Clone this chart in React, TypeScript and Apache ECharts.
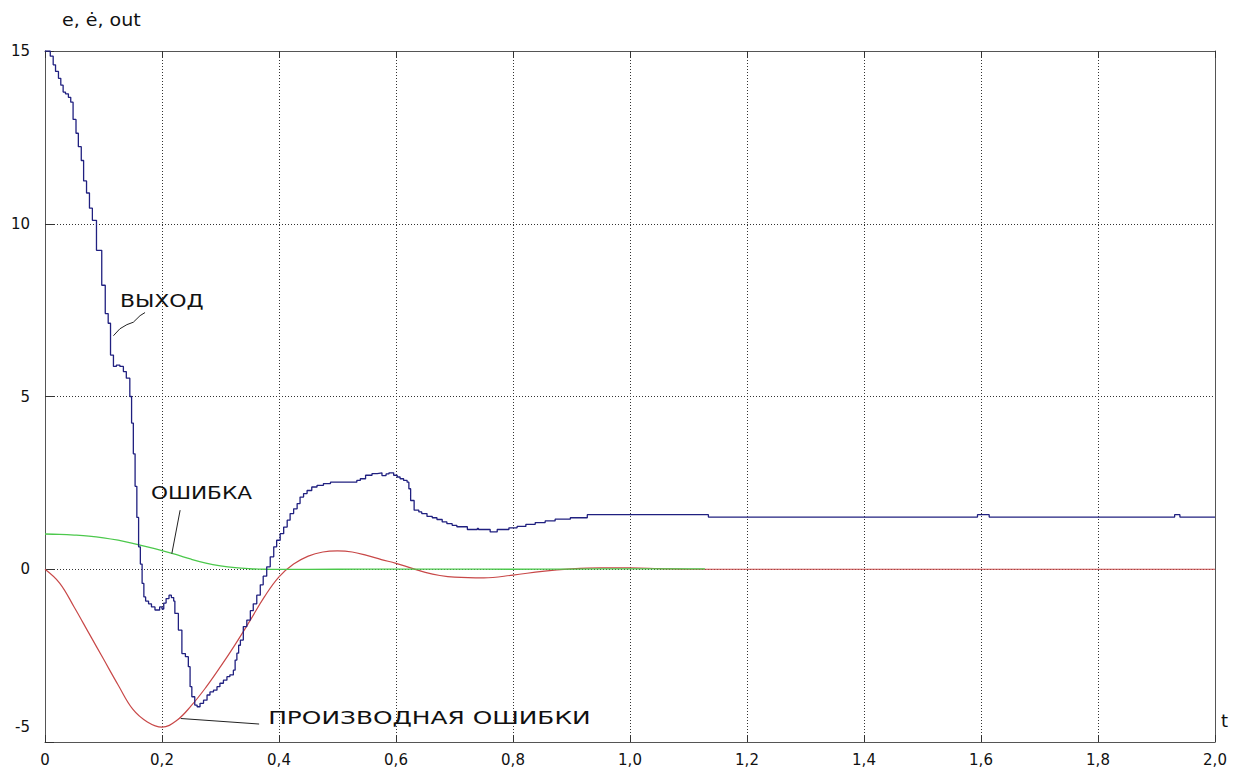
import React, { useEffect, useRef } from 'react';
import * as echarts from 'echarts';

// ВЫХОД (output) – staircase signal: value holds from blueT[i] until blueT[i+1]
const blueT = [
  0.000, 0.009, 0.014, 0.018, 0.023, 0.027, 0.031, 0.035, 0.040, 0.044,
  0.048, 0.053, 0.057, 0.062, 0.066, 0.071, 0.076, 0.081, 0.088, 0.097,
  0.103, 0.108, 0.112, 0.117, 0.122, 0.128, 0.134, 0.139, 0.145, 0.148,
  0.151, 0.154, 0.157, 0.160, 0.163, 0.166, 0.169, 0.172, 0.177, 0.182,
  0.188, 0.196, 0.200, 0.203, 0.207, 0.212, 0.216, 0.220, 0.222, 0.228,
  0.234, 0.240, 0.245, 0.248, 0.251, 0.256, 0.260, 0.265, 0.271, 0.277,
  0.282, 0.288, 0.294, 0.299, 0.305, 0.311, 0.316, 0.322, 0.325, 0.328,
  0.331, 0.334, 0.339, 0.345, 0.351, 0.356, 0.362, 0.368, 0.373, 0.379,
  0.385, 0.391, 0.396, 0.402, 0.408, 0.414, 0.419, 0.425, 0.431, 0.436,
  0.442, 0.448, 0.456, 0.465, 0.476, 0.488, 0.533, 0.539, 0.548, 0.559,
  0.568, 0.576, 0.583, 0.588, 0.596, 0.602, 0.607, 0.613, 0.619, 0.622,
  0.625, 0.631, 0.639, 0.644, 0.653, 0.662, 0.670, 0.679, 0.687, 0.696,
  0.704, 0.722, 0.739, 0.741, 0.761, 0.773, 0.793, 0.807, 0.822, 0.838,
  0.855, 0.872, 0.898, 0.927, 1.134, 1.594, 1.614, 1.931, 1.940, 2.000,
];
const blueV = [
  15.00, 14.85, 14.60, 14.41, 14.21, 14.01, 13.81, 13.76, 13.66, 13.52,
  13.02, 12.62, 12.23, 11.83, 11.24, 10.89, 10.45, 10.10, 9.23, 8.22,
  7.40, 7.12, 6.20, 5.87, 5.91, 5.87, 5.72, 5.53, 5.00, 4.23,
  3.34, 2.40, 1.50, 0.65, 0.15, -0.41, -0.80, -0.92, -1.00, -1.09,
  -1.18, -1.09, -1.15, -0.98, -0.85, -0.75, -0.82, -0.92, -1.28, -1.76,
  -2.44, -2.53, -2.82, -3.40, -3.69, -3.93, -3.98, -3.88, -3.79, -3.64,
  -3.55, -3.50, -3.40, -3.30, -3.21, -3.11, -3.06, -2.92, -2.63, -2.43,
  -2.20, -2.05, -1.66, -1.47, -1.20, -1.00, -0.75, -0.45, -0.20, 0.07,
  0.36, 0.65, 0.84, 1.03, 1.22, 1.42, 1.61, 1.75, 1.90, 2.09,
  2.19, 2.28, 2.38, 2.43, 2.48, 2.52, 2.57, 2.62, 2.72, 2.77,
  2.79, 2.71, 2.76, 2.79, 2.72, 2.67, 2.62, 2.57, 2.52, 2.33,
  1.99, 1.71, 1.66, 1.61, 1.53, 1.49, 1.44, 1.37, 1.32, 1.27,
  1.23, 1.15, 1.18, 1.15, 1.08, 1.15, 1.20, 1.24, 1.30, 1.35,
  1.40, 1.45, 1.49, 1.58, 1.51, 1.58, 1.51, 1.58, 1.51, 1.51,
];

// ОШИБКА (error)
const greenT = [0, 0.025, 0.05, 0.075, 0.1, 0.125, 0.15, 0.175, 0.2, 0.225, 0.25, 0.275, 0.3, 0.325, 0.35, 0.375, 0.4, 0.5, 0.6, 0.7, 0.8, 0.9, 1.0, 1.128];
const greenV = [1.02, 1.01, 0.99, 0.96, 0.91, 0.84, 0.75, 0.65, 0.54, 0.42, 0.29, 0.18, 0.1, 0.045, 0.015, 0.0, -0.005, 0.0, 0.005, 0.005, 0.0, 0.005, 0.01, 0.01];

// ПРОИЗВОДНАЯ ОШИБКИ (error derivative)
const redT = [0, 0.025, 0.05, 0.075, 0.1, 0.125, 0.15, 0.175, 0.2, 0.225, 0.25, 0.275, 0.3, 0.325, 0.35, 0.375, 0.4, 0.425, 0.45, 0.475, 0.5, 0.525, 0.55, 0.575, 0.6, 0.625, 0.65, 0.675, 0.7, 0.75, 0.8, 0.85, 0.9, 0.95, 1.0, 1.05, 1.1, 1.5, 2.0];
const redV = [0, -0.4, -1.1, -1.85, -2.6, -3.35, -4.05, -4.42, -4.57, -4.38, -3.95, -3.42, -2.82, -2.18, -1.5, -0.8, -0.22, 0.15, 0.38, 0.5, 0.53, 0.5, 0.4, 0.28, 0.17, 0.04, -0.09, -0.18, -0.23, -0.25, -0.17, -0.06, 0.01, 0.04, 0.04, 0.02, 0.0, 0.0, 0.0];

// annotations (data coordinates)
const annotationTexts = ['ВЫХОД', 'ОШИБКА', 'ПРОИЗВОДНАЯ ОШИБКИ'];
const annotationT = [0.128, 0.181, 0.3815];
const annotationV = [7.77, 2.2, -4.31];
const leaderLines = [
  [[0.117, 6.76], [0.128, 6.96], [0.140, 7.08], [0.151, 7.15], [0.1625, 7.34], [0.171, 7.43]],
  [[0.2168, 0.45], [0.231, 1.71]],
  [[0.232, -4.32], [0.366, -4.48]],
];
const annotationStretch = [1.22, 1.2, 1.38];

const yAxisTitle = 'e, ė, out';
const xAxisTitle = 't';

const FONT = 'DejaVu Sans';

const zip = (a: number[], b: number[]) => a.map((v, i) => [v, b[i]]);

export default function App() {
  const ref = useRef<HTMLDivElement>(null);
  useEffect(() => {
    if (!ref.current) return;
    const chart = echarts.init(ref.current, undefined, { renderer: 'svg' });
    const gridLine = { color: '#333', width: 1, type: [1, 2] as any };
    chart.setOption({
      animation: false,
      backgroundColor: '#fff',
      grid: { left: 45, right: 21, top: 51, bottom: 31, containLabel: false },
      xAxis: [
        {
          type: 'value', min: 0, max: 2, interval: 0.2, position: 'bottom',
          axisLine: { show: true, onZero: false, lineStyle: { color: '#555', width: 1 } },
          axisTick: { show: true, inside: true, length: 7, lineStyle: { color: '#333' } },
          splitLine: { show: true, lineStyle: gridLine },
          axisLabel: {
            margin: 10, fontSize: 15, fontFamily: FONT, color: '#111',
            formatter: (v: number) => (v === 0 ? '0' : v.toFixed(1).replace('.', ',')),
          },
        },
        {
          type: 'value', min: 0, max: 2, interval: 0.2, position: 'top',
          axisLine: { show: true, onZero: false, lineStyle: { color: '#555', width: 1 } },
          axisTick: { show: true, inside: true, length: 7, lineStyle: { color: '#333' } },
          splitLine: { show: false },
          axisLabel: { show: false },
        },
      ],
      yAxis: [
        {
          type: 'value', min: -5, max: 15, interval: 5, position: 'left',
          axisLine: { show: true, onZero: false, lineStyle: { color: '#555', width: 1 } },
          axisTick: { show: true, inside: true, length: 9, lineStyle: { color: '#333' } },
          splitLine: { show: true, lineStyle: gridLine },
          axisLabel: {
            margin: 15, fontSize: 15, fontFamily: FONT, color: '#111',
            formatter: (v: number) => (v === -5 ? '{low|-5}' : String(v)),
            rich: { low: { fontSize: 15, fontFamily: FONT, color: '#111', padding: [0, 0, 30, 0] } },
          },
        },
        {
          type: 'value', min: -5, max: 15, interval: 5, position: 'right',
          axisLine: { show: true, onZero: false, lineStyle: { color: '#555', width: 1 } },
          axisTick: { show: false },
          splitLine: { show: false },
          axisLabel: { show: false },
        },
      ],
      series: [
        {
          name: 'ПРОИЗВОДНАЯ ОШИБКИ', type: 'line', data: zip(redT, redV), smooth: 0.4,
          showSymbol: false, symbol: 'none', lineStyle: { color: '#c84848', width: 1.2 }, z: 3,
        },
        {
          name: 'ОШИБКА', type: 'line', data: zip(greenT, greenV), smooth: 0.4,
          showSymbol: false, symbol: 'none', lineStyle: { color: '#4cc84c', width: 1.3 }, z: 4,
        },
        {
          name: 'ВЫХОД', type: 'line', data: zip(blueT, blueV), step: 'end',
          showSymbol: false, symbol: 'none', lineStyle: { color: '#202080', width: 1.3 }, z: 5,
        },
      ],
    });

    const toPx = (p: number[]) => chart.convertToPixel({ xAxisIndex: 0, yAxisIndex: 0 }, p) as number[];
    const graphics: any[] = [];
    leaderLines.forEach((pts) => {
      graphics.push({
        type: 'polyline', silent: true, z: 10,
        shape: { points: pts.map(toPx) },
        style: { stroke: '#222', lineWidth: 1, fill: null },
      });
    });
    annotationTexts.forEach((txt, i) => {
      const [x, y] = toPx([annotationT[i], annotationV[i]]);
      graphics.push({
        type: 'text', x, y, scaleX: annotationStretch[i], silent: true, z: 10,
        style: { text: txt, fontSize: 18, fontFamily: FONT, fill: '#111', align: 'left', verticalAlign: 'middle' },
      });
    });
    const [xr, yb] = toPx([2, -5]);
    graphics.push({
      type: 'text', x: xr + 6, y: yb - 22, silent: true, z: 10,
      style: { text: xAxisTitle, fontSize: 18, fontFamily: FONT, fill: '#111', align: 'left', verticalAlign: 'middle' },
    });
    graphics.push({
      type: 'text', x: 62, y: 20, scaleX: 1.12, silent: true, z: 10,
      style: { text: yAxisTitle, fontSize: 17, fontFamily: FONT, fill: '#111', align: 'left', verticalAlign: 'middle' },
    });
    chart.setOption({ graphic: graphics });

    return () => chart.dispose();
  }, []);
  return <div ref={ref} style={{ position: 'fixed', left: 0, top: 0, width: 1236, height: 773, background: '#fff' }} />;
}
